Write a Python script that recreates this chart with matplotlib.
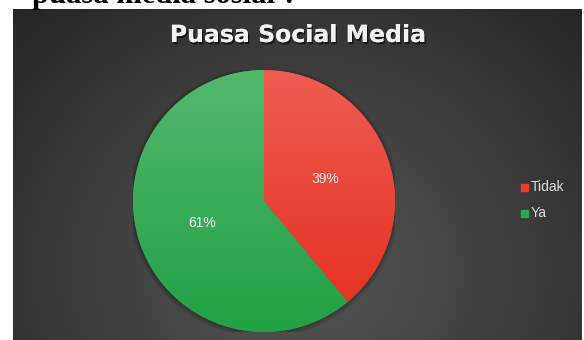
import numpy as np
import matplotlib.pyplot as plt
from matplotlib import patheffects as pe
from matplotlib.patches import Circle, Rectangle

# data
labels = ['Tidak', 'Ya']
values = [39, 61]
pct_text = ['39%', '61%']
top_colors = ['#f05c52', '#52b86c']
bot_colors = ['#e22e1e', '#22a146']
legend_colors = ['#ef3b2c', '#2aa84a']
title = 'Puasa Social Media'
question = 'puasa media sosial ?'

W, H = 584, 340
fig = plt.figure(figsize=(W / 100, H / 100), dpi=100)
fig.patch.set_facecolor('white')

# cut-off question text at the very top
fig.text(32 / W, 1 - 3 / H, question, fontsize=22, fontweight='bold',
         family='Liberation Serif', color='black', ha='left', va='baseline')

# dark panel with radial gradient
bg = fig.add_axes([13 / W, 0, (582 - 13) / W, (H - 9) / H])
bg.set_axis_off()
yy, xx = np.mgrid[0:331, 0:569]
d = np.sqrt(((xx - 290) / 360.0) ** 2 + ((yy - 260) / 330.0) ** 2)
shade = np.clip(0.34 - 0.17 * d, 0.15, 0.34)
bg.imshow(np.dstack([shade] * 3), aspect='auto', extent=[0, 569, 331, 0])
bg.set_xlim(0, 569)
bg.set_ylim(331, 0)

fig.text(298 / W, 1 - 35 / H, title, fontsize=17, fontweight='bold',
         family='DejaVu Sans', color='#f2f2f2', ha='center', va='center',
         path_effects=[pe.withSimplePatchShadow(offset=(1, -1.5), shadow_rgbFace='black', alpha=0.6),
                       pe.Normal()])

# pie
cx, cy, r = 264, 201, 131
ax = fig.add_axes([(cx - r) / W, (H - cy - r) / H, 2 * r / W, 2 * r / H])
ax.set_axis_off()
for i in range(6):
    ax.add_patch(Circle((0, -0.01), 1.0 + 0.006 * (6 - i), color='black', alpha=0.04, lw=0))
wedges, _ = ax.pie(values, startangle=90, counterclock=False, radius=1,
                   colors=legend_colors, wedgeprops=dict(linewidth=0))
grad = np.linspace(0, 1, 256)[:, None]
for w, c0, c1 in zip(wedges, top_colors, bot_colors):
    a = np.array(plt.matplotlib.colors.to_rgb(c0))
    b = np.array(plt.matplotlib.colors.to_rgb(c1))
    img = a[None, None, :] * (1 - grad[:, :, None]) + b[None, None, :] * grad[:, :, None]
    im = ax.imshow(img, extent=[-1, 1, -1, 1], origin='upper', aspect='auto', zorder=3)
    im.set_clip_path(w)

# percent labels at half radius
start = 90.0
for v, t in zip(values, pct_text):
    mid = np.deg2rad(start - v * 3.6 / 2)
    ax.text(0.5 * np.cos(mid), 0.5 * np.sin(mid), t, color='#f0f0f0', fontsize=10,
            family='Liberation Sans', ha='center', va='center', zorder=5)
    start -= v * 3.6
ax.set_xlim(-1, 1)
ax.set_ylim(-1, 1)

# legend
for i, (lab, col) in enumerate(zip(labels, legend_colors)):
    y = 1 - (187 + 26 * i) / H
    fig.patches.append(Rectangle((521 / W, y - 3.5 / H), 7 / W, 7 / H, color=col,
                                 transform=fig.transFigure, figure=fig))
    fig.text(531 / W, y, lab, fontsize=10, family='Liberation Sans', color='#dddddd',
             ha='left', va='center')

fig.savefig('out.png', dpi=100)
